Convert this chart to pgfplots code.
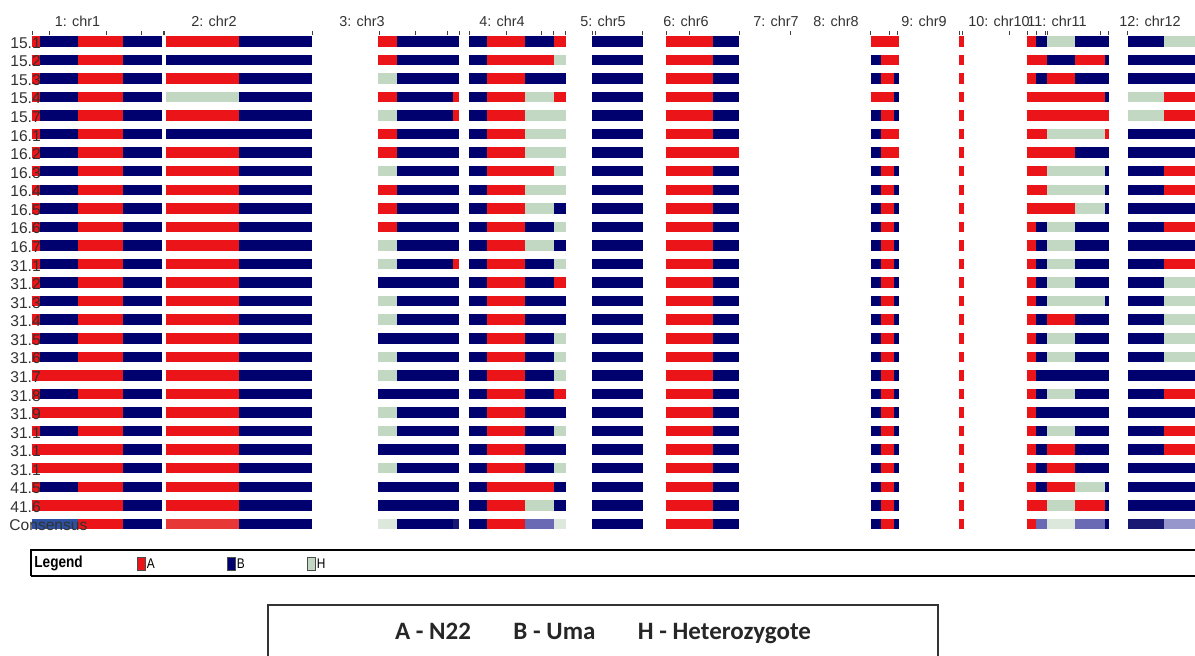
\documentclass[border=0pt]{standalone}
\usepackage{pgfplots}
\pgfplotsset{compat=1.18}
\usepackage{pgfplotstable}
\usepackage{fontspec}
\setmainfont{Liberation Sans}
\newfontfamily\narrow[FakeStretch=0.85]{Liberation Sans}
\newfontfamily\calfont{Carlito}

% genotype colours
\definecolor{gA}{RGB}{235,20,25}
\definecolor{gB}{RGB}{0,0,110}
\definecolor{gH}{RGB}{195,216,195}
% consensus shades
\definecolor{cSteel}{RGB}{45,80,160}
\definecolor{cRed}{RGB}{232,55,55}
\definecolor{cLightH}{RGB}{220,232,220}
\definecolor{cPurple}{RGB}{105,105,180}
\definecolor{cLav}{RGB}{150,150,205}
\definecolor{cNavy}{RGB}{25,25,115}
\definecolor{txt}{RGB}{50,50,50}

\pgfplotsset{
  seg/.style={line width=5.25pt, line cap=butt, mark=none,
    quiver={u=\thisrow{x2}-\thisrow{x1}, v=0}},
}

% one row per line (27 = consensus)
\pgfplotstableread{
r
1
2
3
4
5
6
7
8
9
10
11
12
13
14
15
16
17
18
19
20
21
22
23
24
25
26
27
}\rows

% A (N22) segments: start, end (pixel position), row
\pgfplotstableread{
x1 x2 r
31.7 40 1
77.7 123.3 1
165.7 239 1
378.3 396.7 1
487.3 524.7 1
553.7 566.3 1
666 713.3 1
870.7 898.7 1
959.3 964 1
1026.7 1036 1
31.7 40 2
77.7 123.3 2
378.3 396.7 2
487.3 553.7 2
666 713.3 2
881 898.7 2
959.3 964 2
1026.7 1047.3 2
1075 1105.3 2
31.7 40 3
77.7 123.3 3
165.7 239 3
487.3 524.7 3
666 713.3 3
881 894.3 3
959.3 964 3
1026.7 1036 3
1047.3 1075 3
31.7 40 4
77.7 123.3 4
378.3 396.7 4
453.3 459.3 4
487.3 524.7 4
553.7 566.3 4
666 713.3 4
870.7 894.3 4
959.3 964 4
1026.7 1105.3 4
1164 1200 4
31.7 40 5
77.7 123.3 5
165.7 239 5
453.3 459.3 5
487.3 524.7 5
666 713.3 5
881 894.3 5
959.3 964 5
1026.7 1108.7 5
1164 1200 5
31.7 40 6
77.7 123.3 6
378.3 396.7 6
487.3 524.7 6
666 713.3 6
881 898.7 6
959.3 964 6
1026.7 1047.3 6
1105.3 1108.7 6
31.7 40 7
77.7 123.3 7
165.7 239 7
378.3 396.7 7
487.3 524.7 7
666 739 7
881 898.7 7
959.3 964 7
1026.7 1075 7
31.7 40 8
77.7 123.3 8
165.7 239 8
487.3 553.7 8
666 713.3 8
881 894.3 8
959.3 964 8
1026.7 1047.3 8
1164 1200 8
31.7 40 9
77.7 123.3 9
165.7 239 9
378.3 396.7 9
487.3 524.7 9
666 713.3 9
881 894.3 9
959.3 964 9
1026.7 1047.3 9
1164 1200 9
31.7 40 10
77.7 123.3 10
165.7 239 10
378.3 396.7 10
487.3 524.7 10
666 713.3 10
881 894.3 10
959.3 964 10
1026.7 1075 10
31.7 40 11
77.7 123.3 11
165.7 239 11
378.3 396.7 11
487.3 524.7 11
666 713.3 11
881 894.3 11
959.3 964 11
1026.7 1036 11
1164 1200 11
31.7 40 12
77.7 123.3 12
165.7 239 12
487.3 524.7 12
666 713.3 12
881 894.3 12
959.3 964 12
1026.7 1036 12
31.7 40 13
77.7 123.3 13
165.7 239 13
453.3 459.3 13
487.3 524.7 13
666 713.3 13
881 894.3 13
959.3 964 13
1026.7 1036 13
1164 1200 13
31.7 40 14
77.7 123.3 14
165.7 239 14
487.3 524.7 14
553.7 566.3 14
666 713.3 14
881 894.3 14
959.3 964 14
1026.7 1036 14
31.7 40 15
77.7 123.3 15
165.7 239 15
487.3 524.7 15
666 713.3 15
881 894.3 15
959.3 964 15
1026.7 1036 15
31.7 40 16
77.7 123.3 16
165.7 239 16
487.3 524.7 16
666 713.3 16
881 894.3 16
959.3 964 16
1026.7 1036 16
1047.3 1075 16
31.7 40 17
77.7 123.3 17
165.7 239 17
487.3 524.7 17
666 713.3 17
881 894.3 17
959.3 964 17
1026.7 1036 17
31.7 40 18
77.7 123.3 18
165.7 239 18
487.3 524.7 18
666 713.3 18
881 894.3 18
959.3 964 18
1026.7 1036 18
31.7 123.3 19
165.7 239 19
487.3 524.7 19
666 713.3 19
881 894.3 19
959.3 964 19
1026.7 1036 19
31.7 40 20
77.7 123.3 20
165.7 239 20
487.3 524.7 20
553.7 566.3 20
666 713.3 20
881 894.3 20
959.3 964 20
1026.7 1036 20
1164 1200 20
31.7 123.3 21
165.7 239 21
487.3 524.7 21
666 713.3 21
881 894.3 21
959.3 964 21
1026.7 1036 21
31.7 40 22
77.7 123.3 22
165.7 239 22
487.3 524.7 22
666 713.3 22
881 894.3 22
959.3 964 22
1026.7 1036 22
1164 1200 22
31.7 123.3 23
165.7 239 23
487.3 524.7 23
666 713.3 23
881 894.3 23
959.3 964 23
1026.7 1036 23
1047.3 1075 23
1164 1200 23
31.7 123.3 24
165.7 239 24
487.3 524.7 24
666 713.3 24
881 894.3 24
959.3 964 24
1026.7 1036 24
1047.3 1075 24
31.7 40 25
77.7 123.3 25
165.7 239 25
487.3 553.7 25
666 713.3 25
881 894.3 25
959.3 964 25
1026.7 1036 25
1047.3 1075 25
31.7 123.3 26
165.7 239 26
487.3 524.7 26
666 713.3 26
881 894.3 26
959.3 964 26
1026.7 1047.3 26
1075 1105.3 26
77.7 123.3 27
487.3 524.7 27
666 713.3 27
881 894.3 27
959.3 964 27
1026.7 1036 27
}\segA

% H (heterozygote) segments
\pgfplotstableread{
x1 x2 r
1047.3 1075 1
1164 1200 1
553.7 566.3 2
378.3 396.7 3
165.7 239 4
524.7 553.7 4
1128.3 1164 4
378.3 396.7 5
524.7 566.3 5
1128.3 1164 5
524.7 566.3 6
1047.3 1105.3 6
524.7 566.3 7
378.3 396.7 8
553.7 566.3 8
1047.3 1105.3 8
524.7 566.3 9
1047.3 1105.3 9
524.7 553.7 10
1075 1105.3 10
553.7 566.3 11
1047.3 1075 11
378.3 396.7 12
524.7 553.7 12
1047.3 1075 12
378.3 396.7 13
553.7 566.3 13
1047.3 1075 13
1047.3 1075 14
1164 1200 14
378.3 396.7 15
1047.3 1105.3 15
1164 1200 15
378.3 396.7 16
1164 1200 16
553.7 566.3 17
1047.3 1075 17
1164 1200 17
378.3 396.7 18
553.7 566.3 18
1047.3 1075 18
1164 1200 18
378.3 396.7 19
553.7 566.3 19
1047.3 1075 20
378.3 396.7 21
378.3 396.7 22
553.7 566.3 22
1047.3 1075 22
378.3 396.7 24
553.7 566.3 24
1075 1105.3 25
524.7 553.7 26
1047.3 1075 26
}\segH

\begin{document}
\begin{tikzpicture}
\useasboundingbox (0,0) rectangle (597.5pt,-327.5pt);

% chromosome headers (pixel units, y down)
\begin{scope}[x=0.5pt,y=-0.5pt,font=\fontsize{7.2}{8}\selectfont,text=txt]
  \foreach \lab/\cx in {1: chr1/77.5, 2: chr2/214, 3: chr3/362, 4: chr4/502,
      5: chr5/603, 6: chr6/686, 7: chr7/776, 8: chr8/836, 9: chr9/924,
      10: chr10/999, 11: chr11/1057, 12: chr12/1150}
    \node[inner sep=0pt] at (\cx,21) {\lab};
\end{scope}

\begin{axis}[
    at={(0pt,0pt)}, anchor=north west,
    scale only axis, width=597.5pt, height=327.5pt,
    xmin=0, xmax=1195,
    ymin=-1.2252, ymax=34.066, y dir=reverse,
    hide axis,
  ]

  % B (Uma) as the background of every chromosome
  \addplot[gB, seg, quiver={u=130.6}] table[x expr=31.7, y=r] {\rows};
  \addplot[gB, seg, quiver={u=146.6}] table[x expr=165.7, y=r] {\rows};
  \addplot[gB, seg, quiver={u=81}] table[x expr=378.3, y=r] {\rows};
  \addplot[gB, seg, quiver={u=97.6}] table[x expr=468.7, y=r] {\rows};
  \addplot[gB, seg, quiver={u=50.2}] table[x expr=592.3, y=r] {\rows};
  \addplot[gB, seg, quiver={u=73}] table[x expr=666, y=r] {\rows};
  \addplot[gB, seg, quiver={u=28}] table[x expr=870.7, y=r] {\rows};
  \addplot[gB, seg, quiver={u=82}] table[x expr=1026.7, y=r] {\rows};
  \addplot[gB, seg, quiver={u=72}] table[x expr=1128.3, y=r] {\rows};

  % A and H
  \addplot[gA, seg] table[x=x1, y=r] {\segA};
  \addplot[gH, seg] table[x=x1, y=r] {\segH};

  % consensus row shades
  \addplot[cSteel, seg, quiver={u=46}] coordinates {(31.7,27)};
  \addplot[cRed, seg, quiver={u=73.3}] coordinates {(165.7,27)};
  \addplot[cLightH, seg, quiver={u=18.4}] coordinates {(378.3,27)};
  \addplot[cNavy, seg, quiver={u=6}] coordinates {(453.3,27)};
  \addplot[cPurple, seg, quiver={u=29}] coordinates {(524.7,27)};
  \addplot[cLightH, seg, quiver={u=12.6}] coordinates {(553.7,27)};
  \addplot[cPurple, seg, quiver={u=11.3}] coordinates {(1036,27)};
  \addplot[cLightH, seg, quiver={u=27.7}] coordinates {(1047.3,27)};
  \addplot[cPurple, seg, quiver={u=30.3}] coordinates {(1075,27)};
  \addplot[cNavy, seg, quiver={u=35.7}] coordinates {(1128.3,27)};
  \addplot[cLav, seg, quiver={u=36}] coordinates {(1164,27)};

  % marker ticks along the top
  \addplot[only marks, mark=|, mark size=1.1pt, black!75, line width=0.5pt]
    coordinates {(32.3,0.553) (49,0.553) (106,0.553) (141.7,0.553) (163.3,0.553)
      (164.7,0.553) (312.3,0.553) (379,0.553) (415,0.553) (447.3,0.553)
      (459,0.553) (469,0.553) (506.7,0.553) (541.7,0.553) (553.3,0.553)
      (565.7,0.553) (592.3,0.553) (595.7,0.553) (642.3,0.553) (666,0.553)
      (689.3,0.553) (739,0.553) (790,0.553) (870.7,0.553) (889.3,0.553)
      (897.3,0.553) (959.3,0.553) (962.7,0.553) (1009.3,0.553) (1027,0.553)
      (1036,0.553) (1045.7,0.553) (1047.7,0.553) (1100.7,0.553) (1108.3,0.553)
      (1127.7,0.553)};
\end{axis}

% row names (over the bar starts), legend strip and key box (pixel units)
\begin{scope}[x=0.5pt,y=-0.5pt]
  \begin{scope}[font=\fontsize{7.8}{9}\selectfont,text=txt]
    \foreach \lab [count=\i] in {15.1,15.2,15.3,15.4,15.7,16.1,16.2,16.3,16.4,16.5,
        16.6,16.7,31.1,31.2,31.3,31.4,31.5,31.6,31.7,31.8,31.9,31.1,31.1,31.1,41.5,41.6}
      \node[anchor=west,inner sep=0pt] at (10,{43+18.56*(\i-1)}) {\lab};
    \node[anchor=west,inner sep=0pt] at (9,525.5) {Consensus};
  \end{scope}
  \draw[line width=1pt] (31,576) -- (31,550) -- (1200,550);
  \draw[line width=0.6pt] (31,576) -- (1200,576);
  \node[anchor=west,inner sep=0pt,font=\narrow\bfseries\fontsize{8}{9}\selectfont]
    at (34,563.5) {Legend};
  \foreach \c/\l/\xx in {gA/A/137, gB/B/227, gH/H/307} {
    \draw[fill=\c, draw=black!70, line width=0.4pt] (\xx,557) rectangle ++(8,13);
    \node[anchor=west,inner sep=0pt,font=\narrow\fontsize{7}{8}\selectfont]
      at (\xx+9.5,564) {\l};
  }
  \draw[line width=0.6pt, black!80] (268,660) -- (268,605) -- (938,605) -- (938,660);
  \node[font=\calfont\bfseries\fontsize{12.5}{14}\selectfont, text=black!85]
    at (603,633.5) {A - N22\hspace{1.7em}B - Uma\hspace{1.7em}H - Heterozygote};
\end{scope}
\end{tikzpicture}
\end{document}
